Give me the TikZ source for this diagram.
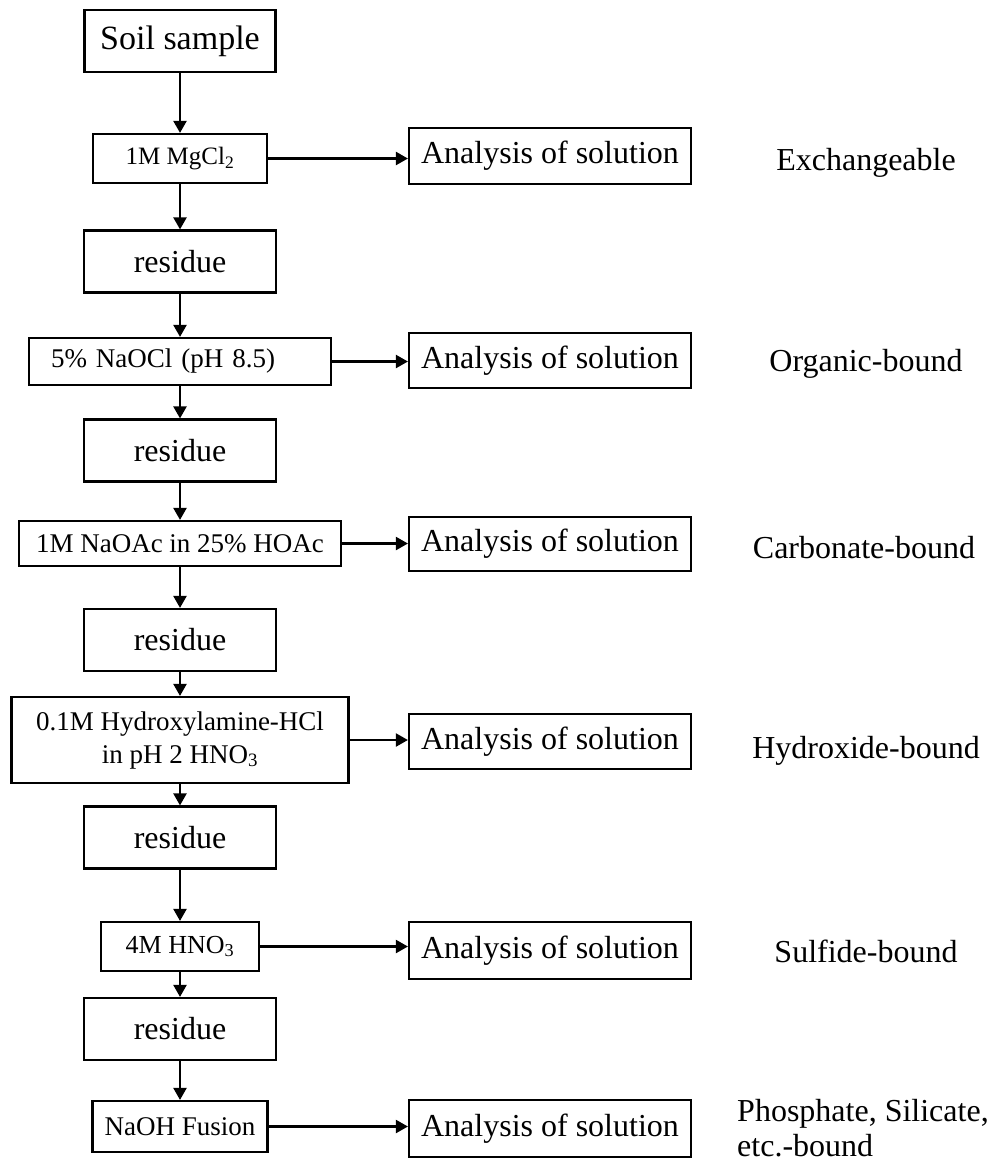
\documentclass[tikz,border=0pt]{standalone}
\usepackage{fontspec}
\setmainfont{Liberation Serif}
\usetikzlibrary{arrows.meta}
\begin{document}
\begin{tikzpicture}[x=1pt,y=-1pt,
  box/.style={draw, line width=2.2pt, inner sep=0pt, align=center},
  big/.style={font=\fontsize{32}{38}\selectfont},
  small/.style={font=\fontsize{27}{33}\selectfont},
  arr/.style={line width=2.2pt, -{Triangle[length=12pt,width=13pt]}},
  lbl/.style={big, anchor=base, inner sep=0pt},
  lbll/.style={big, anchor=base west, inner sep=0pt},
  res/.style={box, big, minimum width=192pt, minimum height=62pt},
  ana/.style={box, big, minimum width=282pt, minimum height=56pt}]
\useasboundingbox (0,0) rectangle (992,1162);

% main column
\node[box, font=\fontsize{34}{40}\selectfont, minimum width=191pt, minimum height=62pt] (soil) at (180,41) {Soil sample};
\node[box, font=\fontsize{25}{30}\selectfont, minimum width=174pt, minimum height=49pt] (mg) at (180,158.5) {1M MgCl\textsubscript{2}};
\node[res] (r1) at (180,261.5) {residue};
\node[box, small, text width=258pt, inner xsep=22pt, align=left, minimum height=47pt] (nc) at (180,361.5) {5\% NaOCl (pH 8.5)};
\node[res] (r2) at (180,450.5) {residue};
\node[box, small, minimum width=322pt, minimum height=45pt] (na) at (180,543.5) {1M NaOAc in 25\% HOAc};
\node[res] (r3) at (180,640) {residue};
\node[box, small, minimum width=337pt, minimum height=86pt] (hy) at (180,740) {0.1M Hydroxylamine-HCl\\in pH 2 HNO\textsubscript{3}};
\node[res] (r4) at (180,837.5) {residue};
\node[box, font=\fontsize{26}{31}\selectfont, minimum width=158pt, minimum height=49pt] (hn) at (180,946.5) {4M HNO\textsubscript{3}};
\node[res] (r5) at (180,1029) {residue};
\node[box, small, minimum width=175pt, minimum height=51pt] (nf) at (180,1126.5) {NaOH Fusion};

% analysis boxes
\node[ana] (a1) at (550,156) {Analysis of solution};
\node[ana, minimum height=55pt] (a2) at (550,360.5) {Analysis of solution};
\node[ana, minimum height=54pt] (a3) at (550,544) {Analysis of solution};
\node[ana, minimum height=55pt] (a4) at (550,741.5) {Analysis of solution};
\node[ana, minimum height=57pt] (a5) at (550,950.5) {Analysis of solution};
\node[ana, minimum height=57pt] (a6) at (550,1128.5) {Analysis of solution};

% labels
\node[lbl] (l1) at (866,170) {Exchangeable};
\node[lbl] (l2) at (866,371) {Organic-bound};
\node[lbl] (l3) at (864,558) {Carbonate-bound};
\node[lbl] (l4) at (866,758) {Hydroxide-bound};
\node[lbl] (l5) at (866,962) {Sulfide-bound};
\node[lbll] (l6) at (737,1121) {Phosphate, Silicate,};
\node[lbll] (l7) at (737,1156) {etc.-bound};

% vertical arrows
\draw[arr] (soil) -- (mg);
\draw[arr] (mg) -- (r1);
\draw[arr] (r1) -- (nc);
\draw[arr] (nc) -- (r2);
\draw[arr] (r2) -- (na);
\draw[arr] (na) -- (r3);
\draw[arr] (r3) -- (hy);
\draw[arr] (hy) -- (r4);
\draw[arr] (r4) -- (hn);
\draw[arr] (hn) -- (r5);
\draw[arr] (r5) -- (nf);

% horizontal arrows
\draw[arr] (mg.east) -- (mg.east -| a1.west);
\draw[arr] (nc.east) -- (nc.east -| a2.west);
\draw[arr] (na.east) -- (na.east -| a3.west);
\draw[arr] (hy.east) -- (hy.east -| a4.west);
\draw[arr] (hn.east) -- (hn.east -| a5.west);
\draw[arr] (nf.east) -- (nf.east -| a6.west);
\end{tikzpicture}
\end{document}
